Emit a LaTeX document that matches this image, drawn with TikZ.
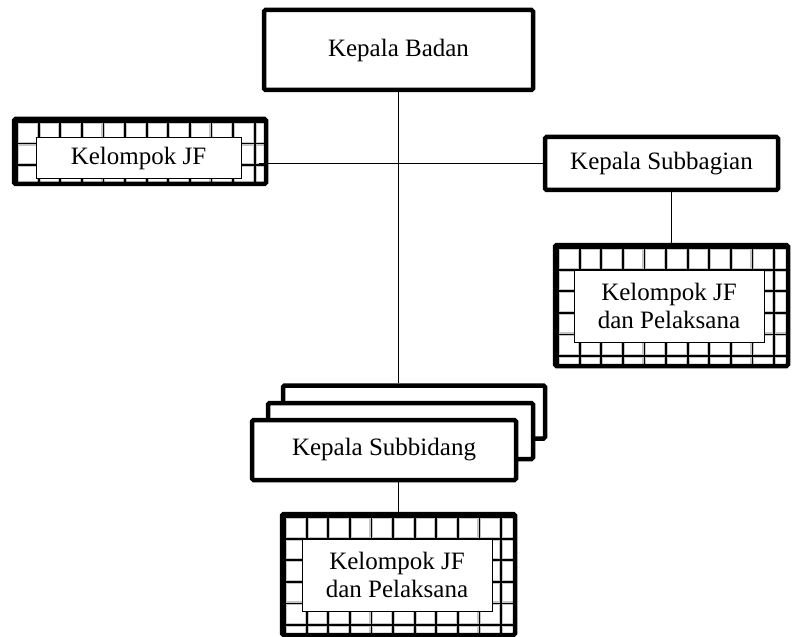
\documentclass[tikz,border=0pt]{standalone}
\usepackage{fontspec}
\setmainfont{Liberation Serif}
\begin{document}
\begin{tikzpicture}[x=1pt, y=-1pt,
    box/.style = {draw, line width=4.5pt, rounded corners=1.5pt, fill=white, inner sep=0pt, font=\fontsize{25}{28}\selectfont, align=center},
    jfbox/.style = {box, path picture={
        \foreach \k [evaluate=\k as \d using 3+21.6*\k] in {0,...,14} {
          \draw[gray!45, line width=4pt] ([xshift=\d pt]path picture bounding box.north west) -- ([xshift=\d pt]path picture bounding box.south west);
          \draw[gray!45, line width=4pt] ([yshift=-\d pt]path picture bounding box.north west) -- ([yshift=-\d pt]path picture bounding box.north east);
        }
        \foreach \k [evaluate=\k as \d using 3+21.6*\k] in {0,...,14} {
          \draw[black, line width=1.8pt] ([xshift=\d pt]path picture bounding box.north west) -- ([xshift=\d pt]path picture bounding box.south west);
          \draw[black, line width=1.8pt] ([yshift=-\d pt]path picture bounding box.north west) -- ([yshift=-\d pt]path picture bounding box.north east);
        }}},
    isi/.style = {draw, line width=0.8pt, fill=white, inner sep=0pt, font=\fontsize{25}{28}\selectfont, align=center},
    sz/.style 2 args = {minimum width=#1pt, minimum height=#2pt},
    garis/.style = {line width=1.5pt}]
  \useasboundingbox (0,0) rectangle (799,636);

  \node[box, sz={269}{80}] (kaban) at (398.5,50) {Kepala Badan};

  \node[jfbox, sz={252}{65}] (jfkiri) at (140,151.5) {};
  \node[isi, sz={205}{41}] (isikiri) at (138.5,158) {Kelompok JF};

  \node[box, sz={233}{53}] (kasubbag) at (661.5,163.5) {Kepala Subbagian};
  \node[jfbox, sz={233}{121}] (jfkanan) at (671.5,305.5) {};
  \node[isi, sz={190}{72}] (isikanan) at (669,306) {Kelompok JF\\dan Pelaksana};

  \node[box, sz={262}{53}] (sb3) at (414,412) {};
  \node[box, sz={265}{56}] (sb2) at (400.5,431) {};
  \node[box, sz={264}{60}] (sb1) at (384,450) {Kepala Subbidang};

  \node[jfbox, sz={233}{121}] (jfbawah) at (398.5,574.5) {};
  \node[isi, sz={190}{72}] (isibawah) at (397,575) {Kelompok JF\\dan Pelaksana};

  \draw[garis] (kaban.south) -- (kaban.south |- sb3.north);
  \draw[garis] (kasubbag.west) -- (kasubbag.west -| jfkiri.east) -- ++(-9,0);
  \draw[garis] (kasubbag.south -| jfkanan.north) -- (jfkanan.north);
  \draw[garis] (sb1.south -| jfbawah.north) -- (jfbawah.north);
\end{tikzpicture}
\end{document}
